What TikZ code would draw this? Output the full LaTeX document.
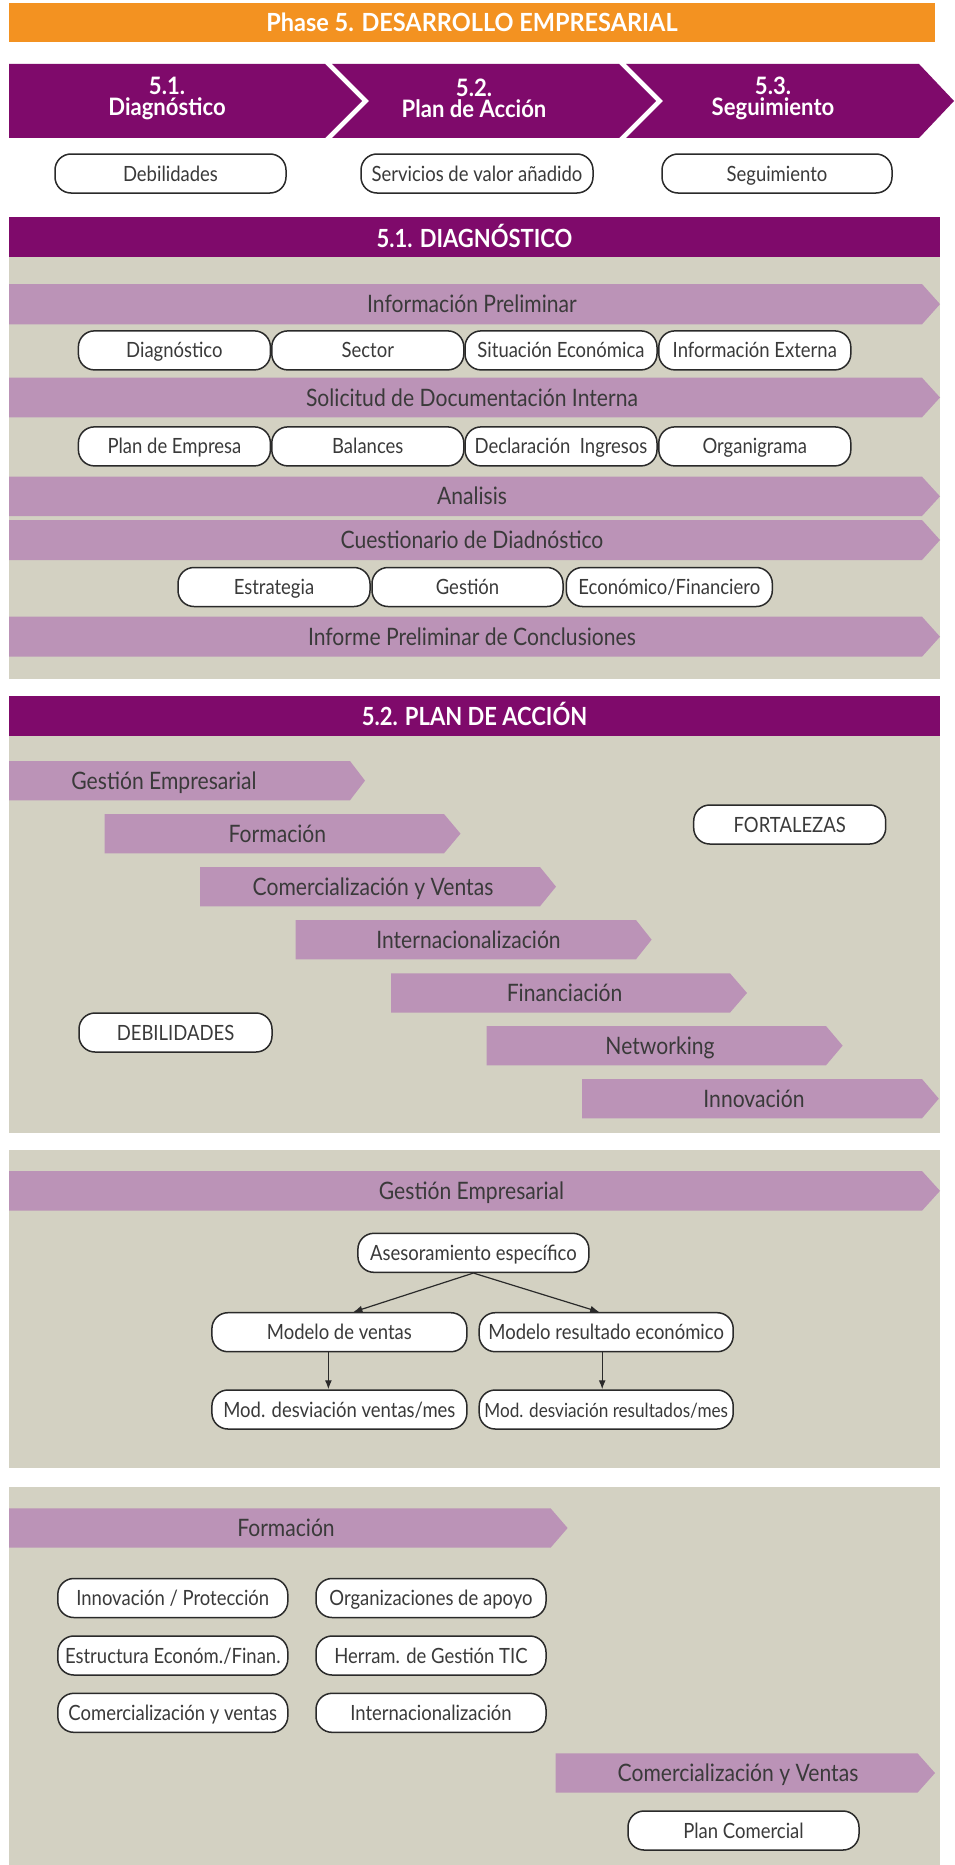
\documentclass[tikz,border=0pt]{standalone}
\usepackage{fontspec}
\setmainfont{Lato}[FakeStretch=0.88]
\newfontfamily\titlef{Lato}[FakeStretch=0.94]
\newfontfamily\chevf{Lato}[FakeStretch=0.92]
\usetikzlibrary{arrows.meta,calc}
\definecolor{orangeC}{HTML}{F39221}
\definecolor{darkP}{HTML}{7F0A6B}
\definecolor{lightP}{HTML}{BB93B7}
\definecolor{grayBg}{HTML}{D3D1C2}
\definecolor{txt}{HTML}{3A3A3A}
\definecolor{pillLine}{HTML}{2A2A2A}
\tikzset{
  pill/.style={draw=pillLine, line width=1.5pt, fill=white, rounded corners=16pt,
    minimum height=39pt, inner sep=0pt, text=txt, text height=15pt, text depth=0pt,
    font=\fontsize{21}{24}\selectfont},
  bartext/.style={text=txt, inner sep=0pt, text height=17pt, text depth=0pt, font=\fontsize{24}{28}\selectfont},
  headtext/.style={text=white, inner sep=0pt, text height=18pt, text depth=0pt, font=\bfseries\fontsize{25}{28}\selectfont},
  titletext/.style={text=white, inner sep=0pt, text height=18pt, text depth=0pt, font=\titlef\bfseries\fontsize{25}{28}\selectfont},
  chevtext/.style={text=white, inner sep=0pt, align=center, font=\chevf\bfseries\fontsize{24}{21}\selectfont},
  conn/.style={draw=pillLine, line width=1.2pt, -{Latex[length=9pt,width=7pt]}}
}
\newcommand\abar[5]{% left, top, righttop, bottom, tipx
  \fill[lightP] (#1,#2) -- (#3,#2) -- (#5,{(#2+#4)/2}) -- (#3,#4) -- (#1,#4) -- cycle;}
\begin{document}
\begin{tikzpicture}[x=1pt,y=-1pt]
\useasboundingbox (0,0) rectangle (954,1865);
\fill[white] (0,0) rectangle (954,1865);
% ===== top =====
\fill[orangeC] (9,3) rectangle (935,42);
\node[titletext] (title) at (472,23) {Phase 5. DESARROLLO EMPRESARIAL};
\fill[darkP] (9,64) -- (325,64) -- (362,101) -- (325,138) -- (9,138) -- cycle;
\fill[darkP] (332,64) -- (619,64) -- (656,101) -- (619,138) -- (332,138) -- (369,101) -- cycle;
\fill[darkP] (626,64) -- (919,64) -- (954,101) -- (919,138) -- (626,138) -- (663,101) -- cycle;
\node[chevtext] (c1) at (167,98) {5.1.\\Diagnóstico};
\node[chevtext] (c2) at (474,98) {5.2.\\Plan de Acción};
\node[chevtext] (c3) at (773,98) {5.3.\\Seguimiento};
\node[pill, minimum width=231pt] (p1) at (170.5,173.5) {Debilidades};
\node[pill, minimum width=232pt] (p2) at (477,173.5) {Servicios de valor añadido};
\node[pill, minimum width=230pt] (p3) at (777,173.5) {Seguimiento};
% ===== 5.1 =====
\fill[darkP] (9,217) rectangle (940,257);
\node[headtext] (h51) at (474.5,238) {5.1. DIAGNÓSTICO};
\fill[grayBg] (9,257) rectangle (940,679);
\abar{9}{284}{922}{324.3}{940}
\node[bartext] (ip) at (472,304.2) {Información Preliminar};
\node[pill, minimum width=192pt] (d1) at (174.4,350.4) {Diagnóstico};
\node[pill, minimum width=192pt] (d2) at (367.8,350.4) {Sector};
\node[pill, minimum width=192pt] (d3) at (561,350.4) {Situación Económica};
\node[pill, minimum width=192pt] (d4) at (754.8,350.4) {Información Externa};
\abar{9}{377.7}{922}{417.3}{940}
\node[bartext] (sdi) at (472,397.5) {Solicitud de Documentación Interna};
\node[pill, minimum width=192pt] (e1) at (174.4,446.4) {Plan de Empresa};
\node[pill, minimum width=192pt] (e2) at (367.8,446.4) {Balances};
\node[pill, minimum width=192pt] (e3) at (561,446.4) {Declaración\ \ Ingresos};
\node[pill, minimum width=192pt] (e4) at (754.8,446.4) {Organigrama};
\abar{9}{476.7}{922}{516}{940}
\node[bartext] (an) at (472,496.4) {Analisis};
\abar{9}{520}{922}{560}{940}
\node[bartext] (cu) at (472,540) {Cuestionario de Diadnóstico};
\node[pill, minimum width=192pt] (f1) at (274,587) {Estrategia};
\node[pill, minimum width=191pt] (f2) at (467.5,587) {Gestión};
\node[pill, minimum width=206pt] (f3) at (669.3,587) {Económico/Financiero};
\abar{9}{616.7}{922}{656.7}{940}
\node[bartext] (inf) at (472,636.7) {Informe Preliminar de Conclusiones};
% ===== 5.2 =====
\fill[darkP] (9,696) rectangle (940,736);
\node[headtext] (h52) at (474.5,716) {5.2. PLAN DE ACCIÓN};
\fill[grayBg] (9,736) rectangle (940,1132.7);
\abar{9}{761}{350}{800.3}{365}
\node[bartext] (s1) at (164,780.6) {Gestión Empresarial};
\abar{104.6}{814}{444}{853.3}{460.5}
\node[bartext] (s2) at (277.4,833.6) {Formación};
\abar{200}{867}{540}{906.3}{556}
\node[bartext] (s3) at (373,886.6) {Comercialización y Ventas};
\abar{295.7}{920}{636}{959.3}{651.6}
\node[bartext] (s4) at (468.5,939.6) {Internacionalización};
\abar{391}{973.3}{730}{1012.6}{747}
\node[bartext] (s5) at (564.6,993) {Financiación};
\abar{486.7}{1026}{826}{1065.3}{842.6}
\node[bartext] (s6) at (660,1045.6) {Networking};
\abar{582}{1079}{922}{1118.3}{938.8}
\node[bartext] (s7) at (754,1098.6) {Innovación};
\node[pill, minimum width=192pt] (fort) at (789.7,824.5) {FORTALEZAS};
\node[pill, minimum width=193pt] (deb) at (175.5,1032.5) {DEBILIDADES};
% ===== Gestion Empresarial =====
\fill[grayBg] (9,1150) rectangle (940,1467.7);
\abar{9}{1171}{922}{1210.7}{940}
\node[bartext] (ge) at (471.5,1190.8) {Gestión Empresarial};
\node[pill, minimum width=231pt] (ases) at (473.4,1252.8) {Asesoramiento específico};
\node[pill, minimum width=255pt] (mv) at (339.4,1332.2) {Modelo de ventas};
\node[pill, minimum width=254pt] (mr) at (606.2,1332.2) {Modelo resultado económico};
\node[pill, minimum width=255pt] (mdv) at (339.4,1409.5) {Mod. desviación ventas/mes};
\node[pill, minimum width=254pt, font=\fontsize{19.5}{24}\selectfont] (mdr) at (606.2,1409.5) {Mod. desviación resultados/mes};
\draw[conn] (ases.south) -- ([xshift=14pt]mv.north);
\draw[conn] (ases.south) -- ([xshift=-7pt]mr.north);
\draw[conn] ([xshift=-11pt]mv.south) -- ([xshift=-11pt]mdv.north);
\draw[conn] ([xshift=-4pt]mr.south) -- ([xshift=-4pt]mdr.north);
% ===== Formacion =====
\fill[grayBg] (9,1486.7) rectangle (940,1865);
\abar{9}{1508.3}{550.6}{1547.7}{567.6}
\node[bartext] (fo) at (286,1528) {Formación};
\node[pill, minimum width=230pt] (g1) at (172.8,1598) {Innovación / Protección};
\node[pill, minimum width=230pt] (g2) at (431,1598) {Organizaciones de apoyo};
\node[pill, minimum width=230pt] (g3) at (172.8,1655.5) {Estructura Económ./Finan.};
\node[pill, minimum width=230pt] (g4) at (431,1655.5) {Herram. de Gestión TIC};
\node[pill, minimum width=230pt] (g5) at (172.8,1712.8) {Comercialización y ventas};
\node[pill, minimum width=230pt] (g6) at (431,1712.8) {Internacionalización};
\abar{555.5}{1753.3}{917.5}{1792.7}{935}
\node[bartext] (cv) at (738,1773) {Comercialización y Ventas};
\node[pill, minimum width=231pt] (pc) at (743.5,1830.5) {Plan Comercial};
\end{tikzpicture}
\end{document}
